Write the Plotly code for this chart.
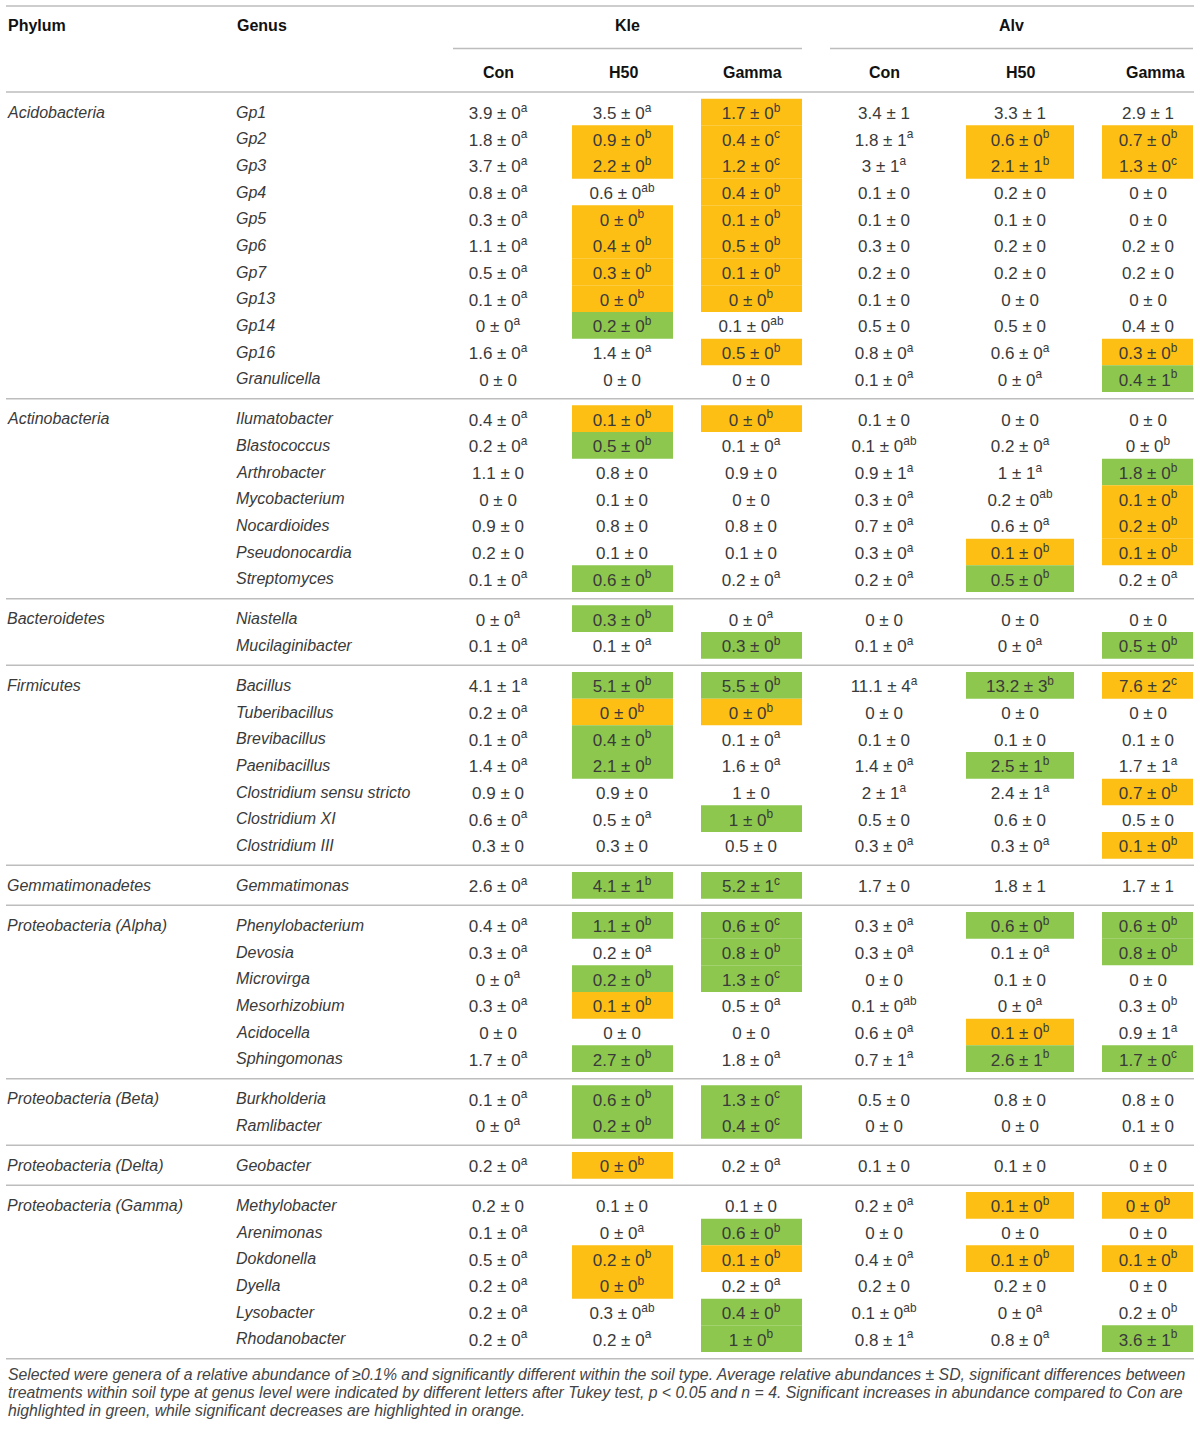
import plotly.graph_objects as go

# Filas del cuadro
phyla = ["Acidobacteria", "Actinobacteria", "Bacteroidetes", "Firmicutes",
         "Gemmatimonadetes", "Proteobacteria (Alpha)", "Proteobacteria (Beta)",
         "Proteobacteria (Delta)", "Proteobacteria (Gamma)"]
group_sizes = [11, 7, 2, 7, 1, 6, 2, 1, 6]
genera = ["Gp1", "Gp2", "Gp3", "Gp4", "Gp5", "Gp6", "Gp7", "Gp13", "Gp14", "Gp16", "Granulicella",
          "Ilumatobacter", "Blastococcus", "Arthrobacter", "Mycobacterium", "Nocardioides",
          "Pseudonocardia", "Streptomyces",
          "Niastella", "Mucilaginibacter",
          "Bacillus", "Tuberibacillus", "Brevibacillus", "Paenibacillus",
          "Clostridium sensu stricto", "Clostridium XI", "Clostridium III",
          "Gemmatimonas",
          "Phenylobacterium", "Devosia", "Microvirga", "Mesorhizobium", "Acidocella", "Sphingomonas",
          "Burkholderia", "Ramlibacter",
          "Geobacter",
          "Methylobacter", "Arenimonas", "Dokdonella", "Dyella", "Lysobacter", "Rhodanobacter"]

# Kle - Con
kle_con_mean = [3.9, 1.8, 3.7, 0.8, 0.3, 1.1, 0.5, 0.1, 0, 1.6, 0,
                0.4, 0.2, 1.1, 0, 0.9, 0.2, 0.1,
                0, 0.1,
                4.1, 0.2, 0.1, 1.4, 0.9, 0.6, 0.3,
                2.6,
                0.4, 0.3, 0, 0.3, 0, 1.7,
                0.1, 0,
                0.2,
                0.2, 0.1, 0.5, 0.2, 0.2, 0.2]
kle_con_sd = [0, 0, 0, 0, 0, 0, 0, 0, 0, 0, 0,
              0, 0, 0, 0, 0, 0, 0,
              0, 0,
              1, 0, 0, 0, 0, 0, 0,
              0,
              0, 0, 0, 0, 0, 0,
              0, 0,
              0,
              0, 0, 0, 0, 0, 0]
kle_con_sig = ["a", "a", "a", "a", "a", "a", "a", "a", "a", "a", "",
               "a", "a", "", "", "", "", "a",
               "a", "a",
               "a", "a", "a", "a", "", "a", "",
               "a",
               "a", "a", "a", "a", "", "a",
               "a", "a",
               "a",
               "", "a", "a", "a", "a", "a"]
kle_con_hl = "........... ....... .. ....... . ...... .. . ......"

# Kle - H50
kle_h50_mean = [3.5, 0.9, 2.2, 0.6, 0, 0.4, 0.3, 0, 0.2, 1.4, 0,
                0.1, 0.5, 0.8, 0.1, 0.8, 0.1, 0.6,
                0.3, 0.1,
                5.1, 0, 0.4, 2.1, 0.9, 0.5, 0.3,
                4.1,
                1.1, 0.2, 0.2, 0.1, 0, 2.7,
                0.6, 0.2,
                0,
                0.1, 0, 0.2, 0, 0.3, 0.2]
kle_h50_sd = [0, 0, 0, 0, 0, 0, 0, 0, 0, 0, 0,
              0, 0, 0, 0, 0, 0, 0,
              0, 0,
              0, 0, 0, 0, 0, 0, 0,
              1,
              0, 0, 0, 0, 0, 0,
              0, 0,
              0,
              0, 0, 0, 0, 0, 0]
kle_h50_sig = ["a", "b", "b", "ab", "b", "b", "b", "b", "b", "a", "",
               "b", "b", "", "", "", "", "b",
               "b", "a",
               "b", "b", "b", "b", "", "a", "",
               "b",
               "b", "a", "b", "b", "", "b",
               "b", "b",
               "b",
               "", "a", "b", "b", "ab", "a"]
kle_h50_hl = ".OO.OOOOG.. OG....G G. GOGG... G G.GO.G GG O ..OO.."

# Kle - Gamma
kle_gamma_mean = [1.7, 0.4, 1.2, 0.4, 0.1, 0.5, 0.1, 0, 0.1, 0.5, 0,
                  0, 0.1, 0.9, 0, 0.8, 0.1, 0.2,
                  0, 0.3,
                  5.5, 0, 0.1, 1.6, 1, 1, 0.5,
                  5.2,
                  0.6, 0.8, 1.3, 0.5, 0, 1.8,
                  1.3, 0.4,
                  0.2,
                  0.1, 0.6, 0.1, 0.2, 0.4, 1]
kle_gamma_sd = [0, 0, 0, 0, 0, 0, 0, 0, 0, 0, 0,
                0, 0, 0, 0, 0, 0, 0,
                0, 0,
                0, 0, 0, 0, 0, 0, 0,
                1,
                0, 0, 0, 0, 0, 0,
                0, 0,
                0,
                0, 0, 0, 0, 0, 0]
kle_gamma_sig = ["b", "c", "c", "b", "b", "b", "b", "b", "ab", "b", "",
                 "b", "a", "", "", "", "", "a",
                 "a", "b",
                 "b", "b", "a", "a", "", "b", "",
                 "c",
                 "c", "b", "c", "a", "", "a",
                 "c", "c",
                 "a",
                 "", "b", "b", "a", "b", "b"]
kle_gamma_hl = "OOOOOOOO.O. O...... .G GO...G. G GGG... GG . .GO.GG"

# Alv - Con
alv_con_mean = [3.4, 1.8, 3, 0.1, 0.1, 0.3, 0.2, 0.1, 0.5, 0.8, 0.1,
                0.1, 0.1, 0.9, 0.3, 0.7, 0.3, 0.2,
                0, 0.1,
                11.1, 0, 0.1, 1.4, 2, 0.5, 0.3,
                1.7,
                0.3, 0.3, 0, 0.1, 0.6, 0.7,
                0.5, 0,
                0.1,
                0.2, 0, 0.4, 0.2, 0.1, 0.8]
alv_con_sd = [1, 1, 1, 0, 0, 0, 0, 0, 0, 0, 0,
              0, 0, 1, 0, 0, 0, 0,
              0, 0,
              4, 0, 0, 0, 1, 0, 0,
              0,
              0, 0, 0, 0, 0, 1,
              0, 0,
              0,
              0, 0, 0, 0, 0, 1]
alv_con_sig = ["", "a", "a", "", "", "", "", "", "", "a", "a",
               "", "ab", "a", "a", "a", "a", "a",
               "", "a",
               "a", "", "", "a", "a", "", "a",
               "",
               "a", "a", "", "ab", "a", "a",
               "", "",
               "",
               "a", "", "a", "", "ab", "a"]
alv_con_hl = "........... ....... .. ....... . ...... .. . ......"

# Alv - H50
alv_h50_mean = [3.3, 0.6, 2.1, 0.2, 0.1, 0.2, 0.2, 0, 0.5, 0.6, 0,
                0, 0.2, 1, 0.2, 0.6, 0.1, 0.5,
                0, 0,
                13.2, 0, 0.1, 2.5, 2.4, 0.6, 0.3,
                1.8,
                0.6, 0.1, 0.1, 0, 0.1, 2.6,
                0.8, 0,
                0.1,
                0.1, 0, 0.1, 0.2, 0, 0.8]
alv_h50_sd = [1, 0, 1, 0, 0, 0, 0, 0, 0, 0, 0,
              0, 0, 1, 0, 0, 0, 0,
              0, 0,
              3, 0, 0, 1, 1, 0, 0,
              1,
              0, 0, 0, 0, 0, 1,
              0, 0,
              0,
              0, 0, 0, 0, 0, 0]
alv_h50_sig = ["", "b", "b", "", "", "", "", "", "", "a", "a",
               "", "a", "a", "ab", "a", "b", "b",
               "", "a",
               "b", "", "", "b", "a", "", "a",
               "",
               "b", "a", "", "a", "b", "b",
               "", "",
               "",
               "b", "", "b", "", "a", "a"]
alv_h50_hl = ".OO........ .....OG .. G..G... . G...OG .. . O.O..."

# Alv - Gamma
alv_gamma_mean = [2.9, 0.7, 1.3, 0, 0, 0.2, 0.2, 0, 0.4, 0.3, 0.4,
                  0, 0, 1.8, 0.1, 0.2, 0.1, 0.2,
                  0, 0.5,
                  7.6, 0, 0.1, 1.7, 0.7, 0.5, 0.1,
                  1.7,
                  0.6, 0.8, 0, 0.3, 0.9, 1.7,
                  0.8, 0.1,
                  0,
                  0, 0, 0.1, 0, 0.2, 3.6]
alv_gamma_sd = [1, 0, 0, 0, 0, 0, 0, 0, 0, 0, 1,
                0, 0, 0, 0, 0, 0, 0,
                0, 0,
                2, 0, 0, 1, 0, 0, 0,
                1,
                0, 0, 0, 0, 1, 0,
                0, 0,
                0,
                0, 0, 0, 0, 0, 1]
alv_gamma_sig = ["", "b", "c", "", "", "", "", "", "", "b", "b",
                 "", "b", "b", "b", "b", "b", "a",
                 "", "b",
                 "c", "", "", "a", "b", "", "b",
                 "",
                 "b", "b", "", "b", "a", "c",
                 "", "",
                 "",
                 "b", "", "b", "", "b", "b"]
alv_gamma_hl = ".OO......OG ..GOOO. .G O...O.O . GG...G .. . O.O..G"

footnote = [
    "Selected were genera of a relative abundance of \u22650.1% and significantly different within the soil type. "
    "Average relative abundances \u00b1 SD, significant differences between",
    "treatments within soil type at genus level were indicated by different letters after Tukey test, "
    "<i>p</i> < 0.05 and <i>n</i> = 4. Significant increases in abundance compared to Con are",
    "highlighted in green, while significant decreases are highlighted in orange.",
]

# Estilos
ORANGE = "#FDBF14"
GREEN = "#8DC74E"
TEXT = "#3a3a3a"
RULE = "#bdbdbd"
FONT = "Liberation Sans, Arial, sans-serif"

# posiciones de columnas (x en píxeles de la figura): centro, caja
columns = [
    (kle_con_mean, kle_con_sd, kle_con_sig, kle_con_hl, 498, 446, 550),
    (kle_h50_mean, kle_h50_sd, kle_h50_sig, kle_h50_hl, 622, 572, 673),
    (kle_gamma_mean, kle_gamma_sd, kle_gamma_sig, kle_gamma_hl, 751, 701, 802),
    (alv_con_mean, alv_con_sd, alv_con_sig, alv_con_hl, 884, 830, 940),
    (alv_h50_mean, alv_h50_sd, alv_h50_sig, alv_h50_hl, 1020, 966, 1074),
    (alv_gamma_mean, alv_gamma_sd, alv_gamma_sig, alv_gamma_hl, 1148, 1102, 1193),
]

# posición vertical de cada fila: un paso por fila, medio paso extra entre grupos
row_y = []
for g, n in enumerate(group_sizes):
    for k in range(n):
        row_y.append(len(row_y) + 0.5 * g)

fig = go.Figure()
annotations = []
shapes = []


def text(x, y, s, anchor="center", size=16, color=TEXT, italic=False, bold=False):
    annotations.append(dict(
        x=x, y=y, xref="x", yref="y", text=s, showarrow=False,
        xanchor=anchor, yanchor="middle",
        font=dict(family=FONT, size=size, color=color,
                  style="italic" if italic else "normal",
                  weight="bold" if bold else "normal"),
    ))


def hline(x0, x1, y, width=1.5):
    shapes.append(dict(type="line", xref="x", yref="y", x0=x0, x1=x1, y0=y, y1=y,
                       line=dict(color=RULE, width=width)))


# Encabezado
Y_H1, Y_H2 = -3.26, -1.5
text(6, Y_H1, "Phylum", anchor="left", color="#111", bold=True)
text(235, Y_H1, "Genus", anchor="left", color="#111", bold=True)
text(627, Y_H1, "Kle", color="#111", bold=True)
text(1011, Y_H1, "Alv", color="#111", bold=True)
for lab, xc in zip(["Con", "H50", "Gamma", "Con", "H50", "Gamma"],
                   [498, 623, 752, 884, 1020, 1155]):
    text(xc, Y_H2, lab, color="#111", bold=True)
hline(6, 1194, -3.975)
hline(453, 802, -2.38)
hline(830, 1193, -2.38)
hline(6, 1194, -0.75)

# Filas: phylum y genus
start = 0
for g, n in enumerate(group_sizes):
    text(5, row_y[start], phyla[g], anchor="left", italic=True)
    hline(6, 1194, row_y[start + n - 1] + 0.75)
    start += n

for i, name in enumerate(genera):
    text(234, row_y[i], name, anchor="left", italic=True)

# Celdas: cajas de color y valores
for mean, sd, sig, hl, xc, bx0, bx1 in columns:
    flags = hl.replace(" ", "")
    assert len(mean) == len(sd) == len(sig) == len(flags) == len(genera)
    labels = []
    for i in range(len(genera)):
        y = row_y[i]
        if flags[i] in "OG":
            shapes.append(dict(type="rect", xref="x", yref="y", x0=bx0, x1=bx1,
                               y0=y - 0.5, y1=y + 0.5, layer="below",
                               fillcolor=ORANGE if flags[i] == "O" else GREEN,
                               line=dict(width=0)))
        s = f"{mean[i]:g} \u00b1 {sd[i]:g}"
        if sig[i]:
            s += f"<sup>{sig[i]}</sup>"
        labels.append(s)
    fig.add_trace(go.Scatter(
        x=[xc] * len(genera), y=[y + 0.1 for y in row_y], mode="text", text=labels,
        textposition="middle center",
        textfont=dict(family=FONT, size=17, color=TEXT),
        hoverinfo="skip", showlegend=False, cliponaxis=False,
    ))

# Nota al pie
for k, line in enumerate(footnote):
    text(6, 47.36 + 0.67 * k, f"<i>{line}</i>", anchor="left", size=15.8, color="#444")

fig.update_layout(
    width=1200, height=1432,
    margin=dict(l=0, r=0, t=0, b=0),
    paper_bgcolor="white", plot_bgcolor="white",
    xaxis=dict(range=[0, 1200], visible=False, fixedrange=True),
    yaxis=dict(range=[49.5, -4.2], visible=False, fixedrange=True),
    annotations=annotations,
    shapes=shapes,
    showlegend=False,
)

fig.write_html("out.html", config={"displayModeBar": False},
               post_script="document.body.style.margin = '0';")
